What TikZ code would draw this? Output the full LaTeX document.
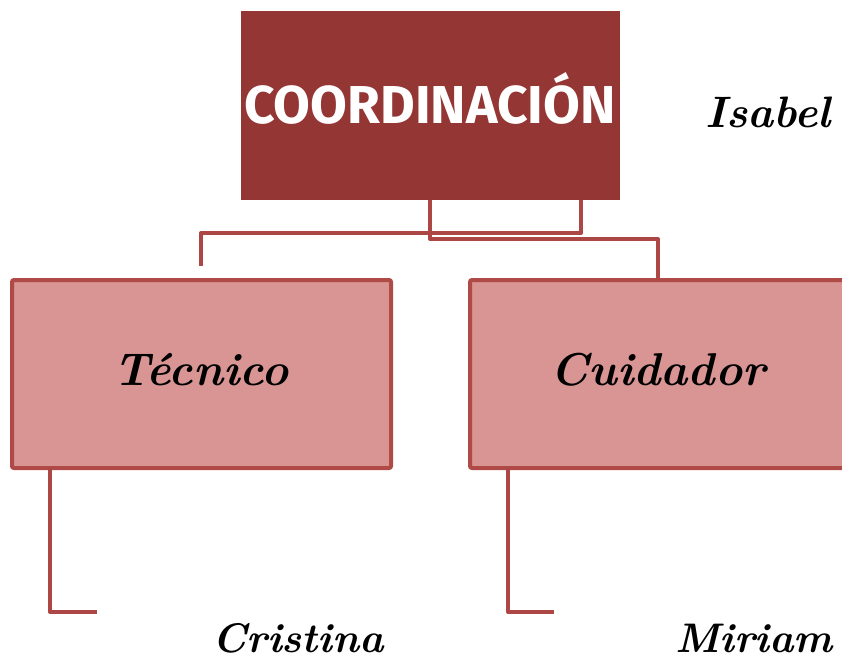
\documentclass[tikz,border=0pt]{standalone}
\usepackage{fontspec}
\setmainfont{Latin Modern Roman}
\newfontfamily\headfont{Fira Sans}
\definecolor{topred}{HTML}{943634}
\definecolor{linered}{HTML}{AC4745}
\definecolor{boxpink}{HTML}{D99594}
\definecolor{boxline}{HTML}{B04A47}
\begin{document}
\begin{tikzpicture}[x=0.75pt,y=-0.75pt,
  conn/.style={draw=linered,line width=3pt,line join=round},
  subbox/.style={draw=boxline,fill=boxpink,line width=3pt,rounded corners=1.5pt},
  role/.style={font=\fontsize{34.5}{38}\selectfont\bfseries\itshape,text=black},
  person/.style={font=\fontsize{31}{35}\selectfont\bfseries\itshape,text=black,anchor=base,inner sep=1pt}]
\useasboundingbox (0,0) rectangle (842,661);
\fill[white] (0,0) rectangle (842,661);
% top box
\fill[topred] (241,11) rectangle (620,200);
\node[text=white,font=\headfont\fontsize{40}{44}\selectfont\bfseries] (coord) at (430,98) {COORDINACIÓN};
% sub boxes
\draw[subbox] (12,280) rectangle (391,468);
\draw[subbox] (470,280) rectangle (848,468);
\coordinate (cui) at (658,280);
\node[role] (tecnico) at (201,370) {Técnico};
\node[role] (cuidador) at (658,370) {Cuidador};
% connectors
\coordinate (a1) at (430,200);
\coordinate (a2) at (581,200);
\coordinate (tecend) at (201,266);
\draw[conn] (a1) -- (430,239) -- (658,239) -- (cui);
\draw[conn] (a2) -- (581,233) -- (201,233) -- (tecend);
\coordinate (l1) at (50,468);
\coordinate (l2) at (97,612);
\coordinate (r1) at (508,468);
\coordinate (r2) at (554,612);
\draw[conn] (l1) |- (l2);
\draw[conn] (r1) |- (r2);
% names
\node[person,font=\fontsize{33}{37}\selectfont\bfseries\itshape] (isabel) at (768,127) {Isabel};
\node[person] (cristina) at (298,652) {Cristina};
\node[person] (miriam) at (754,652) {Miriam};
\end{tikzpicture}
\end{document}
